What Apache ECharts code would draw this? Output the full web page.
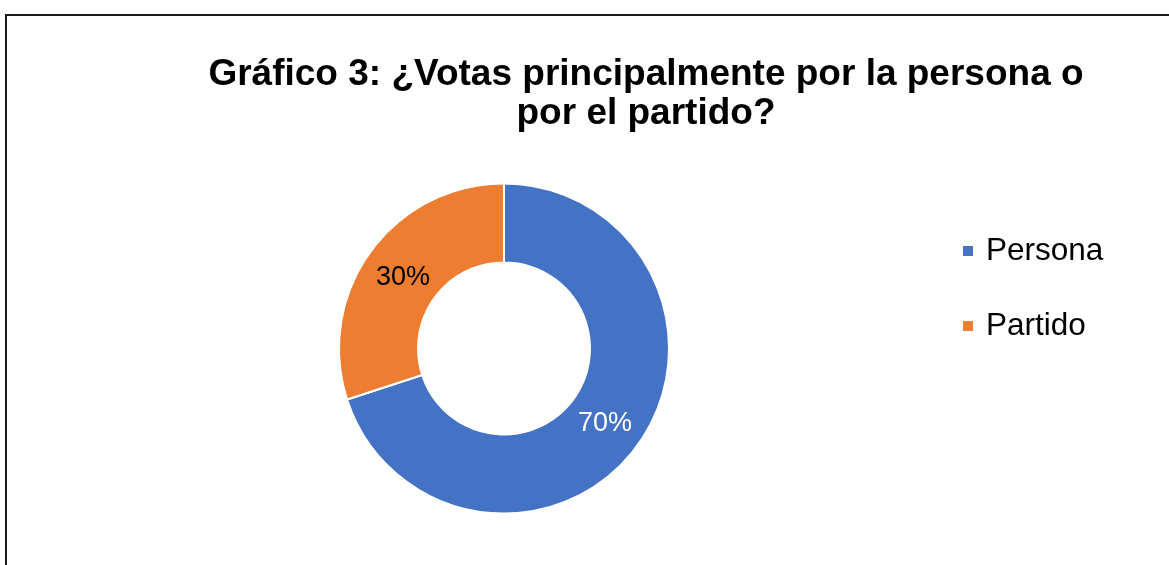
<!DOCTYPE html>
<html>
<head>
<meta charset="utf-8">
<style>
  html, body { margin: 0; padding: 0; background: #ffffff; }
  #chart { width: 1169px; height: 565px; }
</style>
<script src="https://cdn.jsdelivr.net/npm/echarts@6/dist/echarts.min.js"></script>
</head>
<body>
<div id="chart"></div>
<script>
// Survey answers: vote mainly for the person or for the party
const categories = ['Persona', 'Partido'];
const shares = [70, 30];
const colors = ['#4472C4', '#ED7D31'];
const titleLines = ['Gráfico 3: ¿Votas principalmente por la persona o', 'por el partido?'];

const chart = echarts.init(document.getElementById('chart'), null, { renderer: 'canvas' });

const labelColors = ['#ffffff', '#000000'];
const labelOffsets = [[-3, 0], [3, 5]];

const pieData = categories.map((name, i) => ({
  name: name,
  value: shares[i],
  itemStyle: { color: colors[i] },
  label: { color: labelColors[i], offset: labelOffsets[i] }
}));

chart.setOption({
  animation: false,
  backgroundColor: '#ffffff',
  title: {
    text: titleLines.join('\n'),
    left: 641,
    top: 50,
    textAlign: 'center',
    textStyle: {
      fontFamily: 'Liberation Sans, Arial, sans-serif',
      fontWeight: 'bold',
      fontSize: 37,
      lineHeight: 39,
      color: '#000000'
    }
  },
  legend: {
    orient: 'vertical',
    left: 956,
    top: 230,
    icon: 'rect',
    itemWidth: 12,
    itemHeight: 12,
    itemGap: 43,
    textStyle: {
      fontFamily: 'Liberation Sans, Arial, sans-serif',
      fontSize: 31.5,
      color: '#000000',
      padding: [0, 0, 0, 7]
    },
    data: categories
  },
  graphic: [{
    type: 'rect',
    shape: { x: 6, y: 15, width: 1300, height: 700 },
    style: { fill: 'none', stroke: '#1a1a1a', lineWidth: 2 },
    silent: true,
    z: 10
  }],
  series: [{
    type: 'pie',
    center: [504, 348.5],
    radius: [86, 165],
    startAngle: 90,
    clockwise: true,
    avoidLabelOverlap: false,
    itemStyle: { borderColor: '#ffffff', borderWidth: 2 },
    label: {
      show: true,
      position: 'inside',
      formatter: '{c}%',
      fontFamily: 'Liberation Sans, Arial, sans-serif',
      fontSize: 27
    },
    labelLine: { show: false },
    emphasis: { disabled: true },
    data: pieData
  }]
});
</script>
</body>
</html>
